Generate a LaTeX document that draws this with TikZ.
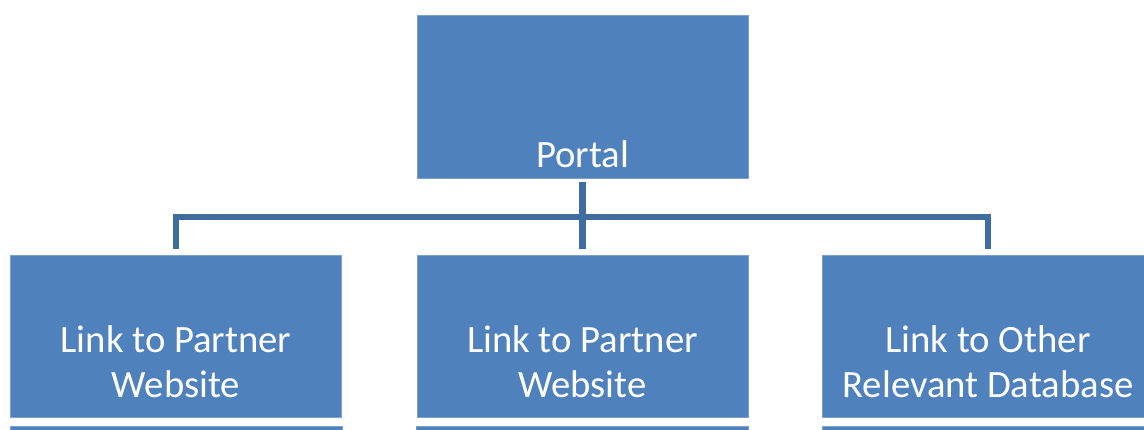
\documentclass[tikz,border=0pt]{standalone}
\usepackage{fontspec}
\setmainfont{Carlito}
\definecolor{boxblue}{HTML}{4F81BD}
\definecolor{linkblue}{HTML}{3F6D9F}
\tikzset{
	box/.style={rectangle, fill=boxblue, draw=boxblue!75!white, line width=0.6pt, minimum width=8.275cm, minimum height=4.05cm, inner sep=0pt},
	boxtext/.style={text=white, align=center, inner sep=0pt, font=\fontsize{27.5pt}{31.3pt}\selectfont},
	link/.style={draw=linkblue, line width=4.3pt}
}
\begin{document}
\begin{tikzpicture}[x=0.025cm,y=0.025cm]
				\clip (0,0) rectangle (1144,429);
				\node[box, minimum height=4.075cm] (portal) at (582.5,332.5) {};
				\foreach \n/\x in {partnerA/176, partnerB/582.5, database/988}
				{
					\node[box] (\n) at (\x,93) {};
					\filldraw[fill=boxblue, draw=boxblue!75!white, line width=0.6pt] (\x-166,3) rectangle (\x+166,-30);
				}
				\node[boxtext, anchor=base] (portaltext) at (582.5,262) {Portal};
				\node[boxtext, anchor=base] (partnerAtext) at (176,32) {Link to Partner\\Website};
				\node[boxtext, anchor=base] (partnerBtext) at (582.5,32) {Link to Partner\\Website};
				\node[boxtext, anchor=base] (databasetext) at (988,32) {Link to Other\\Relevant Database};
				\coordinate (bus) at (582.5,212);
				\draw[link] ([yshift=-0.1cm]portal.south) -- (bus);
				\foreach \n in {partnerA,partnerB,database}
				\draw[link] (bus) -| ([yshift=0.15cm]\n.north);
			\end{tikzpicture}
\end{document}
